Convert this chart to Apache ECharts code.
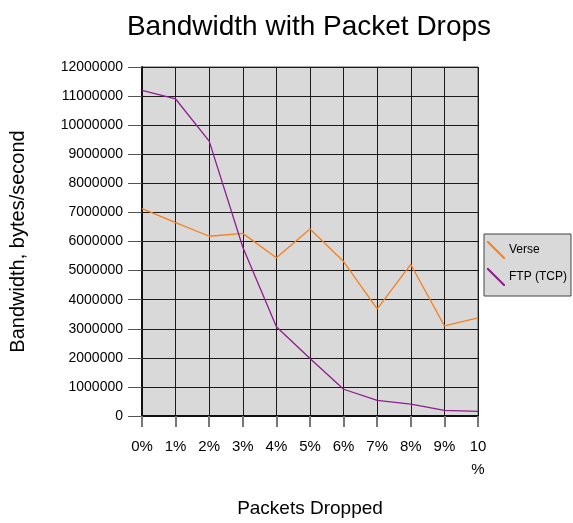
<!DOCTYPE html>
<html>
<head>
<meta charset="utf-8">
<script src="https://cdn.jsdelivr.net/npm/echarts@6/dist/echarts.min.js"></script>
<style>
html,body{margin:0;padding:0;background:#fff;}
#chart{width:573px;height:523px;}
</style>
</head>
<body>
<div id="chart"></div>
<script>
var drops = ['0%','1%','2%','3%','4%','5%','6%','7%','8%','9%','10\n%'];
var verse = [7130000,6650000,6180000,6280000,5440000,6430000,5310000,3680000,5210000,3100000,3370000];
var ftp = [11200000,10900000,9450000,5800000,3070000,1980000,920000,540000,410000,190000,160000];

var myChart = echarts.init(document.getElementById('chart'));
// thin diagonal stroke, like the legend swatch in the original
var legendIcon = 'path://M0,0L0.8,0L10,9.2L10,10L9.2,10L0,0.8Z';
var option = {
	animation : false,
	textStyle : {
		fontFamily : 'Liberation Sans'
	},
	title : {
		text : 'Bandwidth with Packet Drops',
		left : 304,
		textAlign : 'center',
		top : 8,
		textStyle : {
			fontSize : 28,
			fontWeight : 'normal',
			color : '#000',
			fontFamily : 'Liberation Sans'
		}
	},
	legend : {
		orient : 'vertical',
		left : 484,
		top : 234,
		backgroundColor : '#d9d9d9',
		borderColor : '#444',
		borderWidth : 1,
		borderRadius : 0,
		padding : [7, 4, 10, 3],
		itemGap : 9,
		itemWidth : 18,
		itemHeight : 18,
		textStyle : {
			fontSize : 12,
			color : '#000',
			padding : [0, 0, 0, -1]
		},
		data : [
			{ name : 'Verse', icon : legendIcon },
			{ name : 'FTP (TCP)', icon : legendIcon }
		]
	},
	grid : {
		left : 141,
		right : 95,
		top : 67,
		bottom : 105,
		show : true,
		backgroundColor : '#d9d9d9',
		borderColor : '#555',
		borderWidth : 1
	},
	xAxis : {
		type : 'category',
		boundaryGap : false,
		data : drops,
		name : 'Packets Dropped',
		nameLocation : 'middle',
		nameGap : 83,
		nameTextStyle : {
			fontSize : 19,
			color : '#000'
		},
		axisLine : { lineStyle : { color : '#111', width : 2 } },
		axisTick : { length : 11, lineStyle : { color : '#777', width : 2 } },
		axisLabel : {
			color : '#000',
			fontSize : 15,
			margin : 19,
			lineHeight : 23
		},
		splitLine : { show : true, lineStyle : { color : '#1a1a1a', width : 1 } }
	},
	yAxis : {
		type : 'value',
		min : 0,
		max : 12000000,
		interval : 1000000,
		name : 'Bandwidth, bytes/second',
		nameLocation : 'middle',
		nameGap : 114,
		nameTextStyle : {
			fontSize : 20,
			color : '#000'
		},
		axisLine : { show : true, lineStyle : { color : '#111', width : 2 } },
		axisTick : { show : true, length : 14, lineStyle : { color : '#555', width : 1 } },
		axisLabel : {
			color : '#000',
			fontSize : 14,
			margin : 19,
			formatter : function (v) { return String(v); }
		},
		splitLine : { show : true, lineStyle : { color : '#1a1a1a', width : 1 } }
	},
	series : [
		{
			name : 'Verse',
			type : 'line',
			data : verse,
			symbol : 'none',
			color : '#f7801e',
			lineStyle : { color : '#f7801e', width : 1.3 }
		},
		{
			name : 'FTP (TCP)',
			type : 'line',
			data : ftp,
			symbol : 'none',
			color : '#8e1e8e',
			lineStyle : { color : '#8e1e8e', width : 1.3 }
		}
	]
};
myChart.setOption(option, true);
</script>
</body>
</html>
